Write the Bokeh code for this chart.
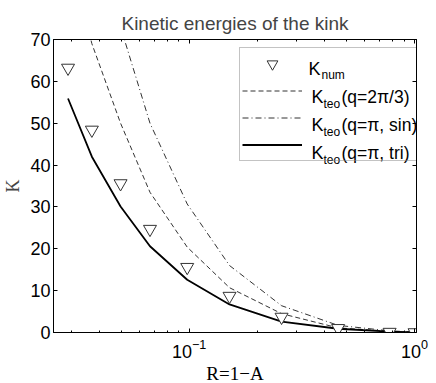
from bokeh.plotting import figure
from bokeh.models import (Range1d, LogAxis, LinearAxis, FixedTicker, Legend, LegendItem,
                          Label, Title, CustomJSTickFormatter)
from bokeh.embed import file_html
from bokeh.resources import INLINE

# ---- data ----
R = [0.029, 0.037, 0.0496, 0.067, 0.098, 0.151, 0.257, 0.458, 0.775, 1.0]
K_num = [63.2, 48.4, 35.6, 24.7, 15.6, 8.7, 3.7, 1.0, 0.1, 0.0]
K_teo_2pi3 = [92.0, 69.0, 50.0, 33.5, 20.4, 10.7, 4.5, 1.1, 0.3, 0.05]
K_teo_sin = [136.0, 102.0, 73.0, 50.0, 30.7, 16.0, 6.4, 1.7, 0.4, 0.1]
K_teo_tri = [55.9, 42.0, 30.1, 20.6, 12.6, 6.7, 2.6, 0.9, 0.2, 0.05]
y_ticks = [0, 10, 20, 30, 40, 50, 60, 70]
x_ticks = [0.1, 1.0]
x_minor = [m * d for d in (0.01, 0.1) for m in range(2, 10) if 0.025 <= m * d <= 1.0]

title_text = "Kinetic energies of the kink"
xlabel = "R=1\u2212A"
ylabel = "K"
legend_rows = [("K", "num", ""), ("K", "teo", "(q=2\u03c0/3)"),
               ("K", "teo", "(q=\u03c0, sin)"), ("K", "teo", "(q=\u03c0, tri)")]

SANS = "Liberation Sans"
SERIF = "Liberation Serif"

# frame edges in canvas pixels
FL, FR, FT, FB = 53, 416, 39, 332
W, H = 436, 383

p = figure(width=W, height=H, x_axis_type="log",
           x_range=Range1d(0.025, 1.02), y_range=Range1d(0, 70),
           output_backend="svg", toolbar_location=None,
           min_border_left=FL, min_border_right=W - FR, min_border_top=FT,
           min_border_bottom=H - FB)
p.grid.visible = False
p.outline_line_color = "black"
p.background_fill_color = "white"
p.border_fill_color = "white"

p.title.text = title_text
p.title.text_font = SANS
p.title.text_font_size = "19px"
p.title.text_font_style = "normal"
p.title.align = "center"
p.title.standoff = 12

xt = FixedTicker(ticks=x_ticks, minor_ticks=x_minor)
yt = FixedTicker(ticks=y_ticks)
blank = CustomJSTickFormatter(code="return ''")

def style(ax):
    ax.axis_line_color = "black"
    ax.major_tick_line_color = "black"
    ax.minor_tick_line_color = "black"
    ax.major_tick_in = 4
    ax.major_tick_out = 0
    ax.minor_tick_in = 2
    ax.minor_tick_out = 0
    ax.major_label_text_font = SANS
    ax.major_label_text_font_size = "18px"
    ax.major_label_text_color = "black"

xa = p.xaxis[0]
xa.ticker = xt
style(xa)
xa.major_label_standoff = 6

ya = p.yaxis[0]
ya.ticker = yt
style(ya)
ya.major_label_standoff = 3
ya.axis_label = ylabel
ya.axis_label_text_font = SERIF
ya.axis_label_text_font_size = "18px"
ya.axis_label_text_font_style = "normal"
ya.axis_label_standoff = 4

top = LogAxis(ticker=xt, formatter=blank)
style(top)
top.major_label_standoff = 0
p.add_layout(top, "above")
right = LinearAxis(ticker=yt, formatter=blank)
style(right)
right.major_label_standoff = 0
p.add_layout(right, "right")

# x axis label as a title below the x axis
p.add_layout(Title(text=xlabel, align="center", text_font=SERIF, text_font_size="19px",
                   text_font_style="normal", text_color="black", standoff=0), "below")

# ---- series ----
r_dash = p.line(R, K_teo_2pi3, line_color="#333333", line_width=1, line_dash="5 3")
r_dd = p.line(R, K_teo_sin, line_color="#333333", line_width=1, line_dash="6 3 1 3")
r_tri = p.line(R, K_teo_tri, line_color="black", line_width=1.8)
r_num = p.scatter(R, K_num, marker="inverted_triangle", size=13,
                  fill_color="white", line_color="#333333", line_width=1)

legend = Legend(items=[LegendItem(label=" ", renderers=[r_num]),
                       LegendItem(label=" ", renderers=[r_dash]),
                       LegendItem(label=" ", renderers=[r_dd]),
                       LegendItem(label=" ", renderers=[r_tri])],
                location=(239 - FL, FB - 161), padding=2, spacing=0, glyph_height=27,
                glyph_width=60, label_standoff=6, label_width=106, margin=0,
                border_line_color="#888888", border_line_width=1,
                background_fill_color="white", background_fill_alpha=0.0)
p.add_layout(legend)

# legend texts (frame-relative screen coordinates, y upward)
row_base = [68.5, 96.5, 124.5, 152.0]
for i, (main, sub, rest) in enumerate(legend_rows):
    kx = 308 if i == 0 else 311
    sx = 321 if i == 0 else 323
    sub_dy = 5.5 if i == 0 else 7
    p.add_layout(Label(x=kx - FL, y=FB - row_base[i], x_units="screen", y_units="screen",
                       text=main, text_font=SANS, text_font_size="18px", level="overlay",
                       text_baseline="alphabetic", text_align="left", text_color="black"))
    p.add_layout(Label(x=sx - FL, y=FB - row_base[i] - sub_dy, x_units="screen", y_units="screen",
                       text=sub, text_font=SANS, text_font_size="12px", level="overlay",
                       text_baseline="alphabetic", text_align="left", text_color="black"))
    if rest:
        p.add_layout(Label(x=341 - FL, y=FB - row_base[i], x_units="screen", y_units="screen",
                           text=rest, text_font=SANS, text_font_size="17.5px", level="overlay",
                           text_baseline="alphabetic", text_align="left", text_color="black"))

open("out.html", "w").write(file_html(p, INLINE))
